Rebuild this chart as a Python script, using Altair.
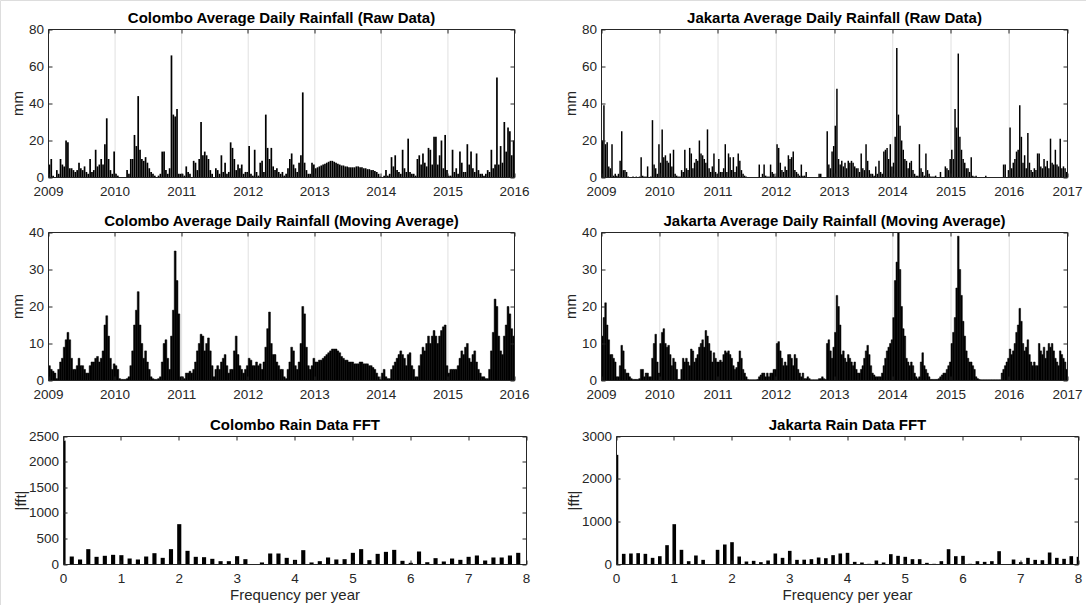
import altair as alt
import pandas as pd

FONT = "Liberation Sans"
INK = "#262626"
GRID = "#e0e0e0"
W, H = 1086, 605

# ---------------- data (dekad values: 3 per month) ----------------
colombo_years = [2009, 2010, 2011, 2012, 2013, 2014, 2015, 2016]
jakarta_years = [2009, 2010, 2011, 2012, 2013, 2014, 2015, 2016, 2017]

colombo_raw = [
    7, 10, 1, 0, 4, 2, 10, 7, 6, 20, 19, 5, 5, 4, 3, 4, 8, 5, 4, 6, 3, 2, 10, 3, 4, 15, 6, 7, 10, 7, 18, 32, 10, 4, 2, 14,
    2, 1, 0, 0, 0, 0, 4, 2, 10, 10, 23, 17, 44, 15, 10, 9, 11, 8, 5, 3, 2, 1, 0, 1, 2, 14, 14, 4, 2, 5, 66, 34, 33, 37, 2, 2,
    2, 1, 6, 3, 2, 0, 9, 8, 4, 10, 30, 12, 14, 12, 10, 4, 2, 0, 5, 4, 2, 12, 3, 8, 2, 3, 19, 16, 10, 4, 7, 5, 7, 2, 3, 3,
    17, 2, 1, 15, 3, 1, 8, 9, 3, 34, 16, 10, 16, 6, 4, 5, 3, 2, 3, 1, 2, 5, 10, 13, 7, 5, 3, 8, 12, 46, 8, 4, 2, 2, 8, 7,
    5, 5.5, 6, 6.5, 7, 7.5, 8, 8.5, 9, 9, 8.5, 8, 7.5, 7, 6.5, 6.5, 6, 6, 5.5, 5.5, 5.5, 5.5, 6, 6, 5.5, 5.5, 5, 5, 4.5, 4.5, 4, 4, 3.5, 3, 2, 0.5,
    0, 1, 4, 1, 2, 11, 6, 12, 4, 3, 2, 15, 5, 3, 21, 3, 2, 2, 1, 10, 12, 7, 13, 8, 6, 16, 15, 7, 22, 22, 7, 12, 20, 5, 23, 4,
    1, 1, 15, 3, 5, 2, 14, 8, 3, 3, 18, 7, 14, 5, 3, 13, 4, 2, 2, 1, 2, 4, 3, 15, 5, 7, 54, 7, 17, 8, 30, 14, 27, 25, 12, 20,
]
colombo_ma = [
    4, 3, 2.5, 2, 0.5, 3, 5, 6, 9, 11, 13, 11, 6, 3, 3, 4, 6, 4, 4, 3, 2, 2, 4, 5, 5, 6, 6.5, 5, 6, 8, 15, 17.5, 12, 6, 3, 4.5,
    4, 3, 0.5, 0.3, 0.3, 0.3, 0.5, 1, 4, 8, 15, 19, 24, 15, 10, 6, 8, 5, 3, 1, 0.5, 0.3, 0.3, 0.5, 1, 5, 10, 11, 6, 3, 12, 19, 35, 27, 18, 1,
    1, 0.5, 2, 2, 2.5, 2, 3, 5, 8, 10, 12.5, 12, 8, 10, 11.5, 8, 4, 1, 3, 4, 3, 5, 6, 7, 4, 2, 3, 3, 8, 12, 7, 4, 3, 2, 3, 4,
    6, 5.5, 4, 4, 5, 4, 4.5, 3, 5, 9, 14, 18.5, 10, 7, 7, 5, 4, 3, 3, 1, 0.5, 3, 5, 9, 8, 4, 3, 5, 10, 20, 18, 9, 4, 3, 4, 6,
    5, 5, 5.5, 5.5, 6, 6.5, 7, 7.5, 8, 8.5, 8.5, 8.5, 8, 7.5, 6.5, 6, 5.5, 5.5, 5, 5, 5, 4.5, 4.5, 4.5, 5, 5, 4.5, 4.5, 4.5, 4, 4, 3.5, 3, 2, 1, 0.3,
    2, 3, 1, 0.5, 0.5, 3, 4, 5, 6, 7, 8, 7, 6, 4, 7, 7.5, 4, 3, 1, 1, 4, 7, 9, 8, 10, 12, 10, 12, 13.5, 12, 10, 12, 13.5, 14.5, 15, 4,
    2, 3, 3, 3, 3, 4, 6, 8, 7, 9, 10, 6, 5, 7, 8, 5, 3, 2, 1, 1, 0.5, 0.5, 3, 8, 13, 22, 20, 12, 8, 7, 12, 15, 20, 18, 14, 12,
]
jakarta_raw = [
    20, 39, 18, 19, 6, 5, 18, 1, 2, 1, 2, 9, 25, 4, 4, 3, 0.5, 0, 0, 0.5, 0, 0.5, 0, 0.5, 11, 1, 0.5, 0.5, 6, 0, 0.5, 31, 7, 5, 2, 18,
    8, 26, 11, 12, 9, 8, 13, 6, 15, 2, 1, 0.5, 0.5, 4, 3, 15, 5, 4, 16, 13, 5, 8, 10, 9, 20, 13, 12, 10, 8, 26, 5, 3, 6, 13, 3, 2,
    10, 3, 3, 5, 18, 3, 13, 11, 4, 11, 3, 6, 13, 9, 4, 2, 1, 0.5, 0, 0, 0, 0, 0, 0, 0, 7, 0, 2, 7, 1, 0.5, 0.5, 7, 3, 2, 0.5,
    18, 16, 8, 4, 3, 6, 4, 12, 10, 11, 14, 4, 3, 2, 1, 7, 1, 1, 3, 0, 0, 0, 0, 0, 0, 0, 2, 2, 0, 0, 0, 25, 7, 5, 14, 17,
    28, 48, 10, 7, 9, 6, 8, 5, 9, 8, 9, 8, 6, 5, 5, 3, 13, 5, 4, 18, 9, 4, 2, 2, 1, 6, 2, 9, 3, 2, 14, 15, 16, 10, 18, 6,
    8, 22, 70, 34, 28, 20, 15, 10, 9, 5, 8, 9, 4, 2, 1, 1, 18, 5, 3, 1, 13, 4, 2, 0.5, 0.5, 0.5, 1, 0, 0, 3, 0, 0, 6, 5, 4, 10,
    15, 10, 37, 27, 67, 22, 15, 10, 8, 5, 5, 3, 11, 1, 0.5, 1, 0, 0, 0, 0, 0, 1, 0, 0, 0, 0, 0, 0, 0, 0, 0, 0, 7, 7, 0, 4,
    27, 5, 8, 10, 14, 15, 39, 22, 8, 12, 5, 24, 8, 4, 3, 5, 4, 13, 13, 6, 5, 10, 6, 9, 5, 21, 8, 7, 15, 7, 6, 21, 5, 6, 5, 3,
]
jakarta_ma = [
    12, 17, 21, 15, 11, 7, 7, 6, 5, 1, 1, 4, 9.5, 8, 3, 2, 2, 1, 0.5, 0.3, 0.3, 0.3, 0.3, 0.5, 3, 3, 1, 2, 2, 1, 1, 6, 10, 12.5, 5, 2,
    10, 13, 14, 10, 9, 9.5, 7, 4, 6, 5, 3, 0.3, 0.3, 3, 6, 5, 6, 5, 4, 8.5, 8, 5, 6, 7, 9, 10, 11, 9, 13.5, 12, 10, 8, 5, 7.5, 6, 5,
    5, 5.5, 5, 7, 8, 7.5, 8, 7, 6, 4, 3, 3.5, 5, 8, 6, 3, 2, 1, 0.3, 0.2, 0.2, 0.2, 0.2, 0.2, 0.3, 1, 1.5, 2, 2, 1, 2, 1, 2, 2, 3, 3,
    10, 10.5, 8, 6, 4, 5, 4, 7, 7, 6, 4, 7, 6, 3, 2, 1, 2, 0.5, 0.5, 1, 0.5, 0.2, 0.2, 0.2, 0.2, 0.2, 0.5, 0.5, 1, 0.5, 0.3, 10, 11, 8, 6, 9,
    13, 23, 20, 15, 7, 8, 6, 5, 7, 6, 5, 4, 5, 3, 2, 2, 3, 4, 6, 8, 9.5, 7, 4, 2, 1.5, 1, 1, 1, 1, 2, 4, 6, 8, 9, 10, 11,
    17, 27, 32, 40, 30, 20, 14, 12, 6, 5, 4, 5, 4, 2, 1, 0.5, 1, 5, 7.5, 4, 3, 2, 1, 0.3, 0.3, 0.3, 0.3, 0.3, 0.5, 1, 1.5, 2, 2, 3, 4, 5,
    10, 13, 17, 25, 39, 30, 23, 16, 12, 8, 6, 5, 5, 4, 3, 1, 0.5, 0.3, 0.2, 0.2, 0.2, 0.2, 0.2, 0.2, 0.2, 0.2, 0.2, 0.2, 0.2, 0.2, 0.2, 2, 3, 4, 5, 6,
    8.5, 7, 8, 10, 13, 15, 19.5, 16, 10, 8, 9, 11, 7, 5, 4, 5, 4, 4, 10, 8, 7, 9, 6, 8, 10, 9, 10, 8, 6, 5, 4, 8, 7, 6, 5, 3,
]

# FFT magnitudes, bin k sits at k / (number of years) cycles per year
colombo_fft = [
    2420, 156, 98, 300, 150, 170, 189, 182, 117, 98, 156, 221, 130, 300, 788, 267, 150, 143, 111, 65,
    65, 163, 104, 5, 40, 215, 215, 130, 91, 280, 40, 65, 137, 98, 104, 228, 300, 85, 208, 247,
    286, 72, 33, 254, 45, 124, 59, 117, 91, 150, 176, 78, 137, 137, 176, 228,
]
jakarta_fft = [
    2570, 250, 258, 266, 250, 156, 195, 453, 945, 344, 78, 211, 109, 8, 344, 469, 523, 187, 70, 86,
    55, 94, 258, 156, 320, 109, 113, 125, 164, 148, 219, 258, 273, 62, 47, 16, 94, 47, 242, 203,
    180, 125, 125, 39, 16, 78, 359, 195, 203, 16, 78, 62, 78, 312, 0, 117, 55, 156, 109, 101,
    281, 156, 133, 195, 180,
]
fft_xticks = [0, 1, 2, 3, 4, 5, 6, 7, 8]
raw_yticks = [0, 20, 40, 60, 80]
ma_yticks = [0, 10, 20, 30, 40]
colombo_fft_yticks = [0, 500, 1000, 1500, 2000, 2500]
jakarta_fft_yticks = [0, 1000, 2000, 3000]

# ---------------- layout (pixel boxes of each plot area) ----------------
BOX = {
    "cb_raw": ((48.5, 514.5), (177.5, 29.5)),
    "jk_raw": ((601.5, 1067.5), (177.5, 29.5)),
    "cb_ma": ((48.5, 514.5), (380.5, 232.5)),
    "jk_ma": ((601.5, 1067.5), (380.5, 232.5)),
    "cb_fft": ((63.5, 526.5), (564.5, 436.5)),
    "jk_fft": ((616.5, 1078.5), (564.5, 436.5)),
}

TXT = dict(labelFont=FONT, labelFontSize=13.5, labelColor=INK, tickColor=INK,
           titleFont=FONT, titleFontSize=15, titleFontWeight="normal", titleColor=INK,
           tickSize=4, domain=False, labelOverlap=False, labelFlush=False, grid=False,
           zindex=1, translate=0)


def ax_bottom(box, values, title_pad=2.5):
    (xl, xr), (yb, yt) = box
    return alt.Axis(orient="bottom", offset=yb - 4 - H, values=values, format="d",
                    labelPadding=7, titlePadding=title_pad, **TXT)


def ax_left(box, values, title_pad):
    (xl, xr), (yb, yt) = box
    return alt.Axis(orient="left", offset=-(xl + 4), values=values, format="d",
                    labelPadding=4.5, titlePadding=title_pad, **TXT)


def ax_top(box, values):
    (xl, xr), (yb, yt) = box
    kw = dict(TXT)
    kw.update(titleFontWeight="bold", titleColor="black")
    return alt.Axis(orient="top", offset=-(yt + 4), values=values, labels=False,
                    titlePadding=3, **kw)


def ax_right(box, values):
    (xl, xr), (yb, yt) = box
    return alt.Axis(orient="right", offset=xr - 4 - W, values=values, labels=False, **TXT)


def frame_layer(xs, ys, box, xdom, ydom, xticks, yticks, title):
    fdf = pd.DataFrame({"x0": [xdom[0]], "x1": [xdom[1]], "y0": [ydom[0]], "y1": [ydom[1]]})
    return alt.Chart(fdf).mark_rect(fill="transparent", stroke=INK, strokeWidth=1).encode(
        x=alt.X("x0:Q", scale=xs, axis=ax_top(box, xticks), title=title),
        x2="x1:Q",
        y=alt.Y("y0:Q", scale=ys, axis=ax_right(box, yticks), title=None),
        y2="y1:Q",
    )


def time_layers(values, years, yticks, title, box, kind):
    (xl, xr), (yb, yt) = box
    xs = alt.Scale(domain=[years[0], years[-1]], range=[xl, xr], nice=False, zero=False)
    ys = alt.Scale(domain=[yticks[0], yticks[-1]], range=[yb, yt], nice=False, zero=False)
    t0 = [years[0] + i / 36 for i in range(len(values))]
    shrink = 0.04 / 36 if kind == "raw" else 0.0
    df = pd.DataFrame({"a": [t + shrink for t in t0], "b": [t + 1 / 36 - shrink for t in t0], "v": values})
    gdf = pd.DataFrame({"yr": years[1:-1], "lo": yticks[0], "hi": yticks[-1]})
    grid = alt.Chart(gdf).mark_rule(color=GRID, strokeWidth=1).encode(
        x=alt.X("yr:Q", scale=xs, axis=None), y=alt.Y("lo:Q", scale=ys, axis=None), y2="hi:Q")
    if kind == "raw":
        mark = alt.Chart(df).mark_bar(color="black")
    else:
        mark = alt.Chart(df).mark_bar(color="black", stroke="black", strokeWidth=0.5)
    bars = mark.encode(
        x=alt.X("a:Q", scale=xs, axis=ax_bottom(box, years), title=None),
        x2="b:Q",
        y=alt.Y("v:Q", scale=ys, axis=ax_left(box, yticks, 3), title="mm"),
        y2=alt.datum(0),
    )
    frame = frame_layer(xs, ys, box, (years[0], years[-1]), (yticks[0], yticks[-1]), years, yticks, title)
    return [grid, bars, frame]


def fft_layers(values, n_years, yticks, title, box):
    (xl, xr), (yb, yt) = box
    xs = alt.Scale(domain=[0, 8], range=[xl, xr], nice=False, zero=False, clamp=True)
    ys = alt.Scale(domain=[yticks[0], yticks[-1]], range=[yb, yt], nice=False, zero=False)
    half = 0.25 / n_years  # MATLAB-style bar width: half of the bin spacing
    f = [k / n_years for k in range(len(values))]
    df = pd.DataFrame({"a": [v - half for v in f], "b": [v + half for v in f], "m": values})
    bars = alt.Chart(df).mark_bar(color="black").encode(
        x=alt.X("a:Q", scale=xs, axis=ax_bottom(box, fft_xticks), title="Frequency per year"),
        x2="b:Q",
        y=alt.Y("m:Q", scale=ys, axis=ax_left(box, yticks, 0), title="|fft|"),
        y2=alt.datum(0),
    )
    frame = frame_layer(xs, ys, box, (0, 8), (yticks[0], yticks[-1]), fft_xticks, yticks, title)
    return [bars, frame]


layers = []
layers += time_layers(colombo_raw, colombo_years, raw_yticks, "Colombo Average Daily Rainfall (Raw Data)", BOX["cb_raw"], "raw")
layers += time_layers(jakarta_raw, jakarta_years, raw_yticks, "Jakarta Average Daily Rainfall (Raw Data)", BOX["jk_raw"], "raw")
layers += time_layers(colombo_ma, colombo_years, ma_yticks, "Colombo Average Daily Rainfall (Moving Average)", BOX["cb_ma"], "ma")
layers += time_layers(jakarta_ma, jakarta_years, ma_yticks, "Jakarta Average Daily Rainfall (Moving Average)", BOX["jk_ma"], "ma")
layers += fft_layers(colombo_fft, 7, colombo_fft_yticks, "Colombo Rain Data FFT", BOX["cb_fft"])
layers += fft_layers(jakarta_fft, 8, jakarta_fft_yticks, "Jakarta Rain Data FFT", BOX["jk_fft"])

chart = alt.layer(*layers).resolve_scale(x="independent", y="independent").resolve_axis(
    x="independent", y="independent"
).properties(
    width=W, height=H, padding=0, autosize=alt.AutoSizeParams(type="none")
).configure_view(stroke="transparent").configure(background="white", font=FONT)

chart.save("out.html", embed_options={"renderer": "svg", "actions": False})
